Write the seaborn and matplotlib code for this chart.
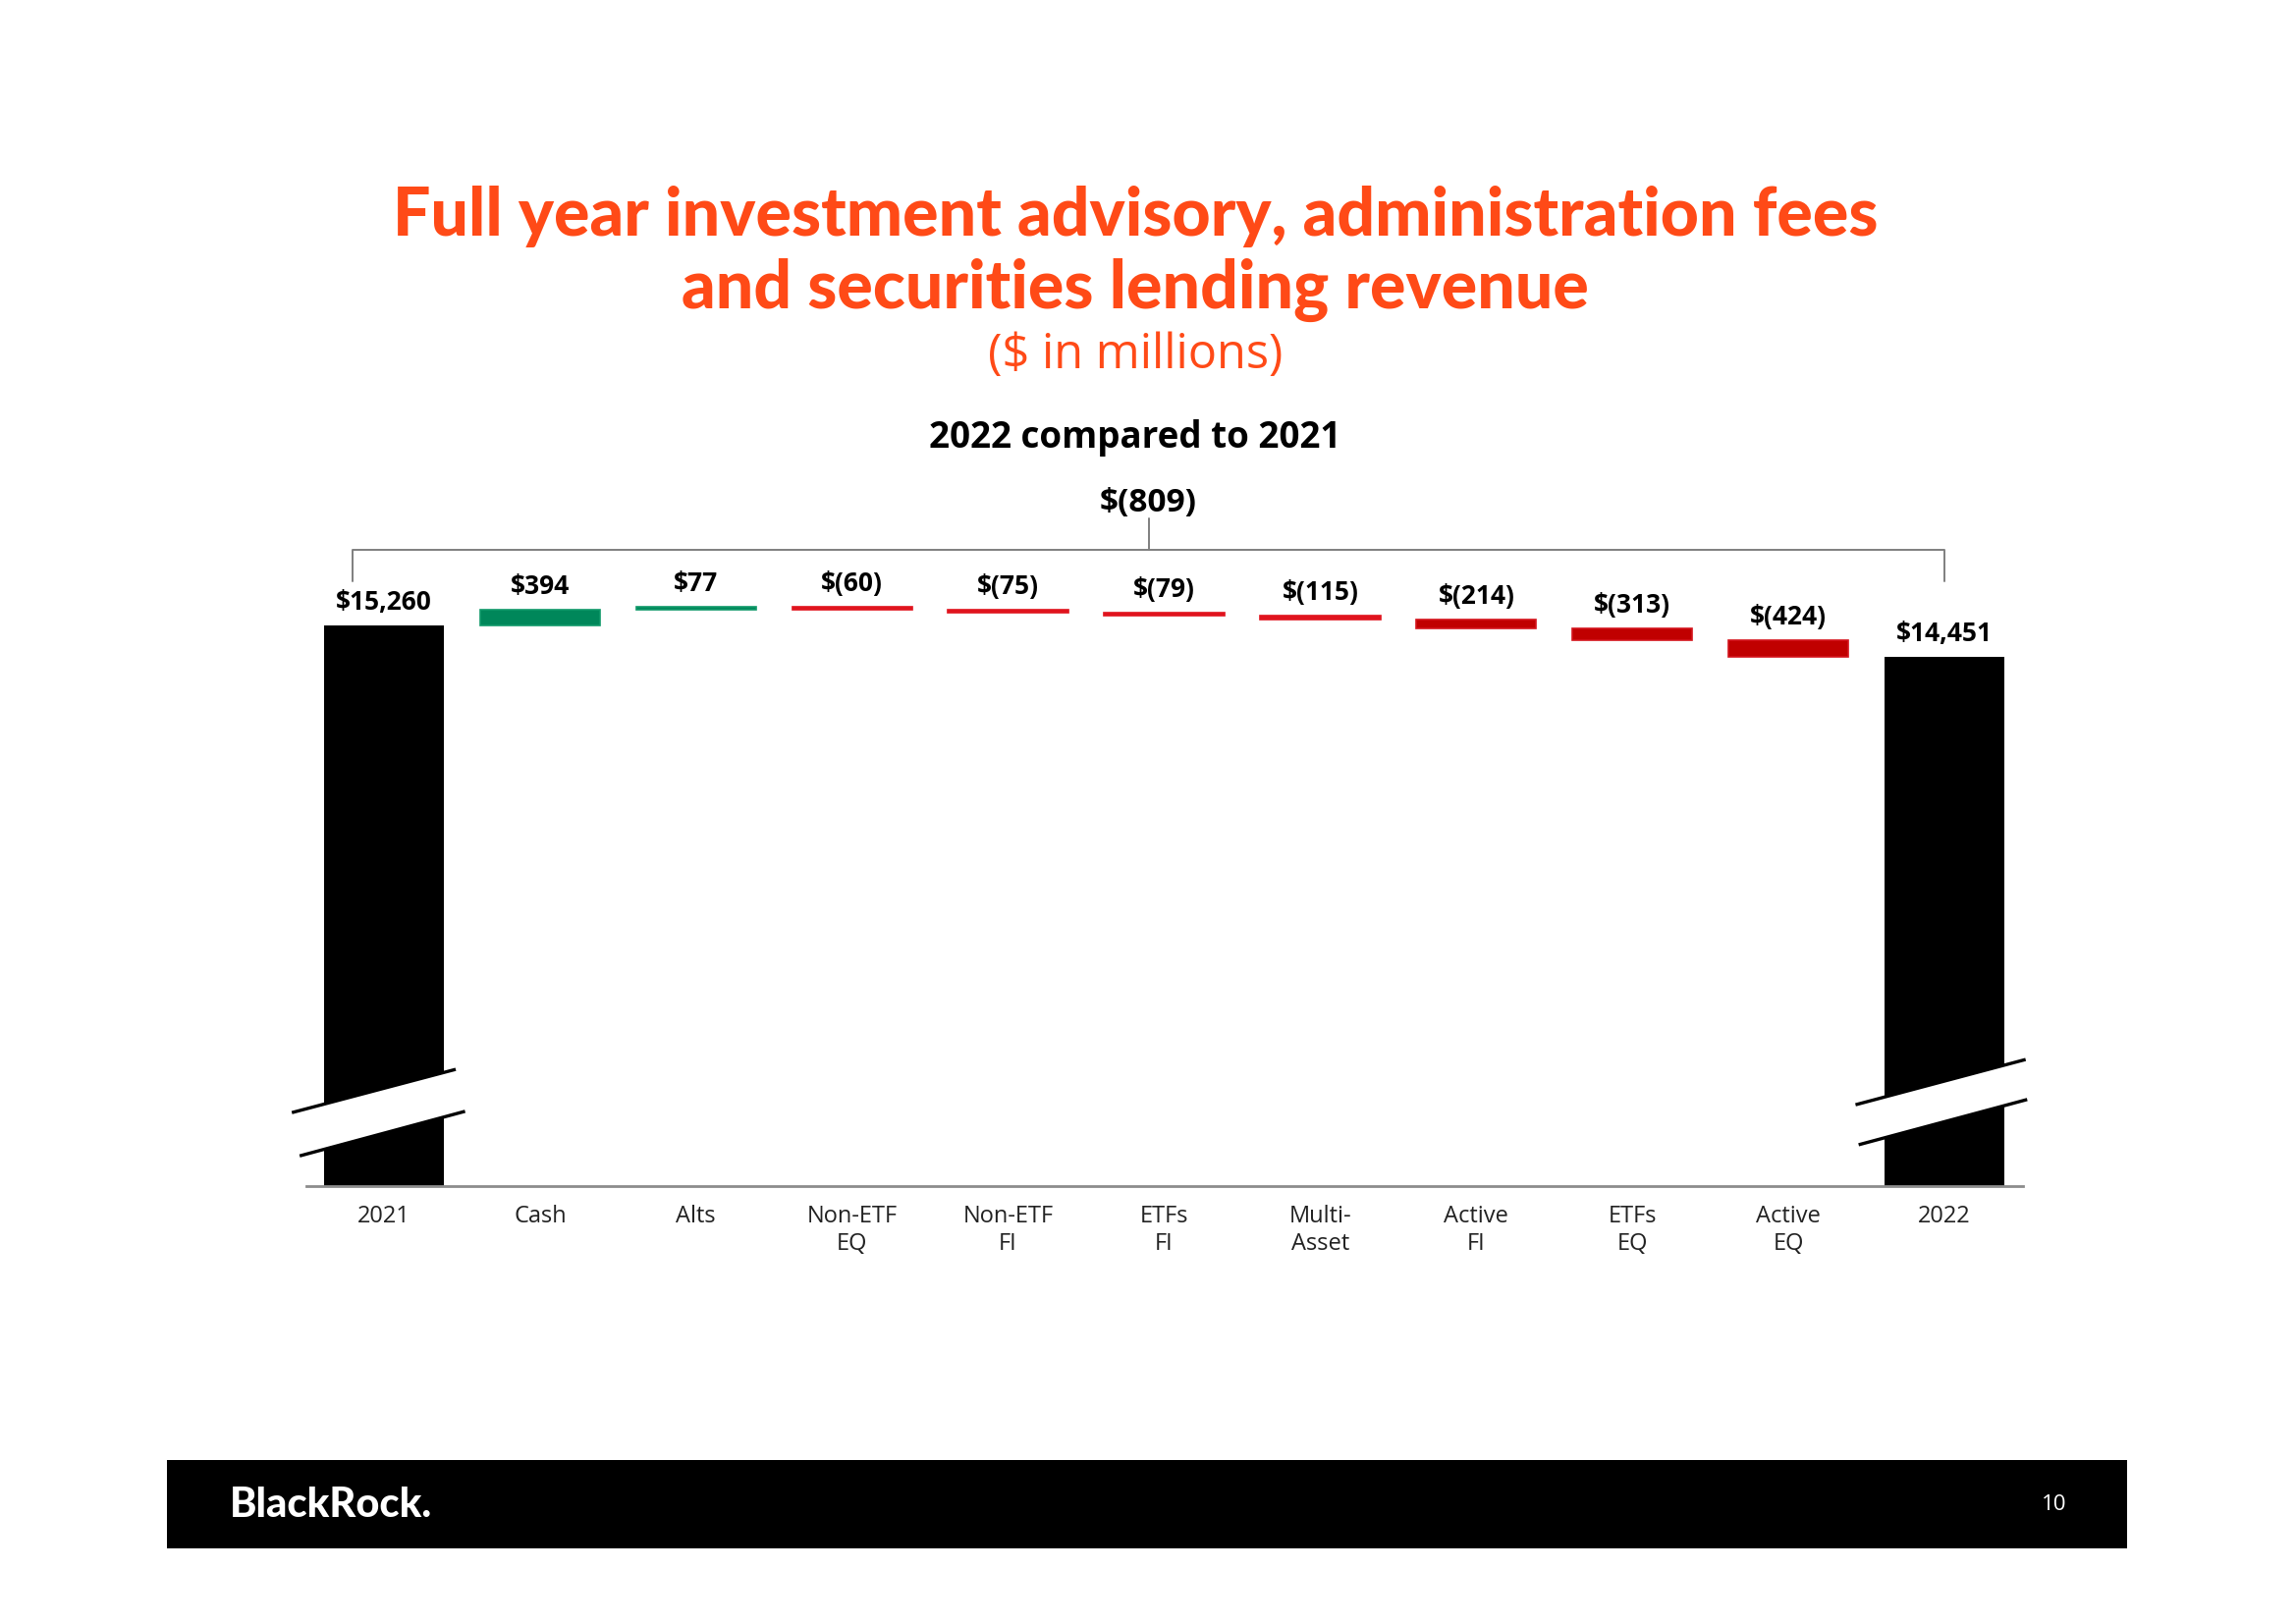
import numpy as np
import pandas as pd
import matplotlib
matplotlib.use("Agg")
import matplotlib.pyplot as plt
import matplotlib.transforms as mtransforms
from matplotlib.patches import Rectangle, Polygon
import seaborn as sns

# ---------------- data ----------------
categories = ["2021", "Cash", "Alts", "Non-ETF\nEQ", "Non-ETF\nFI", "ETFs\nFI",
              "Multi-\nAsset", "Active\nFI", "ETFs\nEQ", "Active\nEQ", "2022"]
start_total = 15260
deltas = [394, 77, -60, -75, -79, -115, -214, -313, -424]
end_total = 14451
title_lines = ["Full year investment advisory, administration fees",
               "and securities lending revenue"]
subtitle = "($ in millions)"
comparison = "2022 compared to 2021"

# ---------------- style ----------------
sns.set_theme(style="white")
plt.rcParams["font.family"] = ["Lato", "DejaVu Sans"]
OPEN = ["Open Sans", "DejaVu Sans"]

ORANGE = "#FF4A17"
GREEN = "#00875A"
GREEN_EDGE = "#109a6a"
RED_THIN = "#E0141E"
RED_DARK = "#C00000"

W, H, DPI = 2338, 1653, 100
fig = plt.figure(figsize=(W / DPI, H / DPI), dpi=DPI)
fig.patch.set_facecolor("white")

# axes geometry (pixels)
ax_left, ax_right, ax_bottom, ax_top = 311.5, 2059.5, 1208, 540
ax = fig.add_axes([ax_left / W, 1 - ax_bottom / H,
                   (ax_right - ax_left) / W, (ax_bottom - ax_top) / H])

n = len(categories)
pos = np.arange(n)

# totals drawn with seaborn
totals = [start_total] + [np.nan] * len(deltas) + [end_total]
df_tot = pd.DataFrame({"cat": categories, "value": totals})
sns.barplot(data=df_tot, x="cat", y="value", order=categories, color="black",
            saturation=1, width=0.77, linewidth=0, ax=ax, errorbar=None)

# floating delta bars
levels = np.concatenate([[start_total], start_total + np.cumsum(deltas)])
bottoms = levels[:-1]
colors, edges = [], []
for d in deltas:
    if d > 0:
        colors.append(GREEN); edges.append(GREEN_EDGE)
    elif d > -150:
        colors.append(RED_THIN); edges.append(RED_THIN)
    else:
        colors.append(RED_DARK); edges.append("#D4141C")
ax.bar(pos[1:-1], deltas, bottom=bottoms, width=0.77, color=colors,
       edgecolor=edges, linewidth=1.2, zorder=3)

# y scale: 809 $ over 32 px
px_per_val = 32.0 / 809.0
ymin = start_total - (ax_bottom - 637) / px_per_val
ymax = start_total + (637 - ax_top) / px_per_val
ax.set_ylim(ymin, ymax)
ax.set_xlim(-0.5, n - 0.5)


def money(v):
    if v < 0:
        return "$({:,})".format(abs(int(v)))
    return "${:,}".format(int(v))


# value labels
tops = [start_total] + [max(b, b + d) for b, d in zip(bottoms, deltas)] + [end_total]
vals = [start_total] + deltas + [end_total]
for i, (t, v) in enumerate(zip(tops, vals)):
    ax.annotate(money(v), xy=(i, t), xytext=(0, 17), textcoords="offset points",
                ha="center", va="center", fontsize=19, fontweight="bold",
                family=OPEN, color="black", annotation_clip=False)

# axes styling
for s in ["left", "right", "top"]:
    ax.spines[s].set_visible(False)
ax.spines["bottom"].set_color("#8c8c8c")
ax.spines["bottom"].set_linewidth(2)
ax.set_yticks([])
ax.set_xlabel("")
ax.set_ylabel("")
ax.set_xticks(pos)
ax.set_xticklabels(categories, fontsize=17, color="#222222", linespacing=1.2,
                   fontfamily=OPEN)
ax.tick_params(axis="x", length=0, pad=14)
ax.set_facecolor("white")

# break marks on total bars
trans = mtransforms.blended_transform_factory(ax.transData, ax.transAxes)
breaks = [
    (0, [(-0.59, 0.112), (0.46, 0.178)], [(-0.54, 0.046), (0.52, 0.114)]),
    (n - 1, [(-0.57, 0.124), (0.52, 0.193)], [(-0.55, 0.063), (0.53, 0.132)]),
]
for c, up, lo in breaks:
    poly = Polygon([(c + up[0][0], up[0][1]), (c + up[1][0], up[1][1]),
                    (c + lo[1][0], lo[1][1]), (c + lo[0][0], lo[0][1])],
                   closed=True, facecolor="white", edgecolor="none",
                   transform=trans, zorder=5, clip_on=False)
    ax.add_patch(poly)
    for ln in (up, lo):
        ax.plot([c + ln[0][0], c + ln[1][0]], [ln[0][1], ln[1][1]], color="black",
                lw=2.4, transform=trans, zorder=6, clip_on=False,
                solid_capstyle="butt")

# bracket
bx0, bx1 = -0.2, n - 1.0
by, bdrop, btick = 0.970, 0.922, 1.018
bc = "#7f7f7f"
ax.plot([bx0, bx0, bx1, bx1], [bdrop, by, by, bdrop], color=bc, lw=1.4,
        transform=trans, clip_on=False, zorder=4)
bmid = (bx0 + bx1) / 2
ax.plot([bmid, bmid], [by, btick], color=bc, lw=1.4, transform=trans,
        clip_on=False, zorder=4)
ax.text(bmid, 1.041, money(end_total - start_total), transform=trans,
        ha="center", va="center", fontsize=24, fontweight="bold", family=OPEN,
        color="black")

# titles
cx = 1156 / W
fig.text(cx, 1 - 221 / H, title_lines[0], ha="center", va="center",
         fontsize=49, fontweight="black", color=ORANGE)
fig.text(cx, 1 - 295 / H, title_lines[1], ha="center", va="center",
         fontsize=49, fontweight="black", color=ORANGE)
fig.text(cx, 1 - 362 / H, subtitle, ha="center", va="center",
         fontsize=35, family=OPEN, color=ORANGE)
fig.text(cx, 1 - 446 / H, comparison, ha="center", va="center",
         fontsize=26.5, fontweight="bold", family=OPEN, color="black")

# footer band
fig.patches.append(Rectangle((170 / W, 1 - 1577 / H), (2166 - 170) / W, 90 / H,
                             transform=fig.transFigure, facecolor="black",
                             edgecolor="none", zorder=0))
fig.text(234 / W, 1 - 1533 / H, "BlackRock.", ha="left", va="center",
         fontsize=30, fontweight="black", color="white")
fig.text(2092 / W, 1 - 1533 / H, "10", ha="center", va="center",
         fontsize=16, family=OPEN, color="white")

fig.savefig("out.png", dpi=DPI, facecolor="white")
